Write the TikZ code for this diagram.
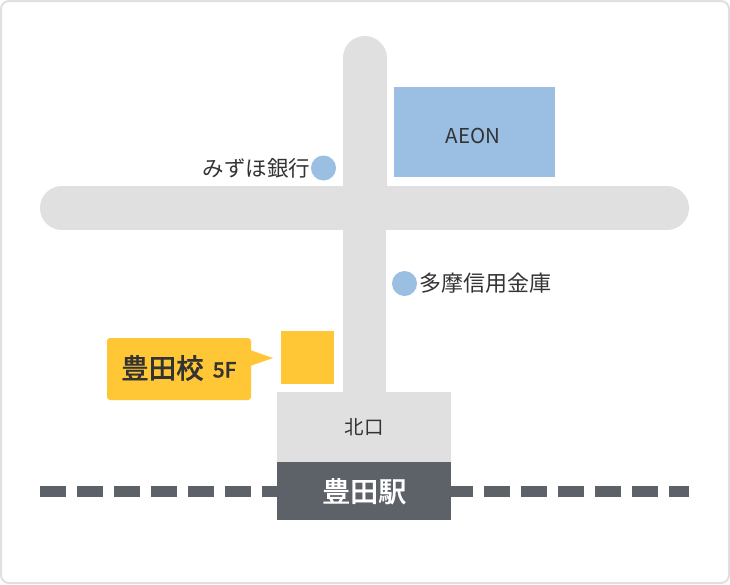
\documentclass[tikz,border=0pt]{standalone}
\usepackage{fontspec}
\setmainfont{Noto Sans CJK JP}
\newfontfamily\medfont[FakeBold=0.6]{Noto Sans CJK JP Medium}
\definecolor{roadgray}{HTML}{E0E0E0}
\definecolor{shopblue}{HTML}{9BBEE3}
\definecolor{schoolyellow}{HTML}{FFC636}
\definecolor{stationgray}{HTML}{5D6268}
\definecolor{textgray}{HTML}{333333}
\tikzset{
  road/.style={draw=roadgray, line width=44pt, line cap=round},
  shop/.style={fill=shopblue, draw=none},
  label/.style={text=textgray, font=\fontsize{22}{26}\selectfont, inner sep=0pt},
}
\begin{document}
\begin{tikzpicture}[x=1pt,y=-1pt]
\useasboundingbox (0,0) rectangle (730,584);
%\draw[help lines, step=100] (0,0) grid (730,584);
\draw[roadgray, line width=2pt, fill=white, rounded corners=8pt] (1,1) rectangle (729,583);
% roads
\draw[road] (62,208) -- (667,208);
\draw[road] (364.5,58) -- (364.5,208);
\fill[roadgray] (343,208) rectangle (386,395);
% railway
\draw[stationgray, line width=11pt, dash pattern=on 26pt off 11pt] (40,491.5) -- (689,491.5);
% station
\node[fill=roadgray, minimum width=174pt, minimum height=70pt, inner sep=0pt, anchor=north west, text=textgray, font=\fontsize{19.5}{23}\selectfont] (exit) at (277,392) {北口};
\node[fill=stationgray, minimum width=174pt, minimum height=58pt, inner sep=0pt, anchor=north west, text=white, font=\fontsize{28}{33}\medfont] (station) at (277,462) {豊田駅};
% shops
\node[shop, minimum width=161pt, minimum height=90pt, inner sep=0pt, anchor=north west] (aeon) at (394,87) {};
\node[label, font=\fontsize{20.5}{24}\selectfont] (aeonname) at (473,135.5) {AEON};
\fill[shopblue] (323.5,168) circle (12.5) coordinate (mizuhomark);
\node[label, anchor=east, font=\fontsize{21.5}{26}\selectfont] (mizuho) at (310.5,168.5) {みずほ銀行};
\fill[shopblue] (404.5,283.5) circle (12.5) coordinate (tamamark);
\node[label, anchor=west] (tama) at (419,283.5) {多摩信用金庫};
% school
\fill[schoolyellow] (281,331) rectangle (334,384);
\fill[schoolyellow, rounded corners=3pt] (251,400) -- (107,400) -- (107,338) -- (251,338) -- cycle;
\fill[schoolyellow] (250,350) -- (273,358) -- (250,366) -- cycle;
\node[anchor=west, inner sep=0pt, text=textgray, font=\fontsize{27.5}{33}\medfont] (school) at (121,368) {豊田校};
\node[anchor=base west, inner sep=0pt, text=textgray, font=\fontsize{21}{24}\medfont] (floor) at (212.5,377.5) {5F};
\end{tikzpicture}
\end{document}
